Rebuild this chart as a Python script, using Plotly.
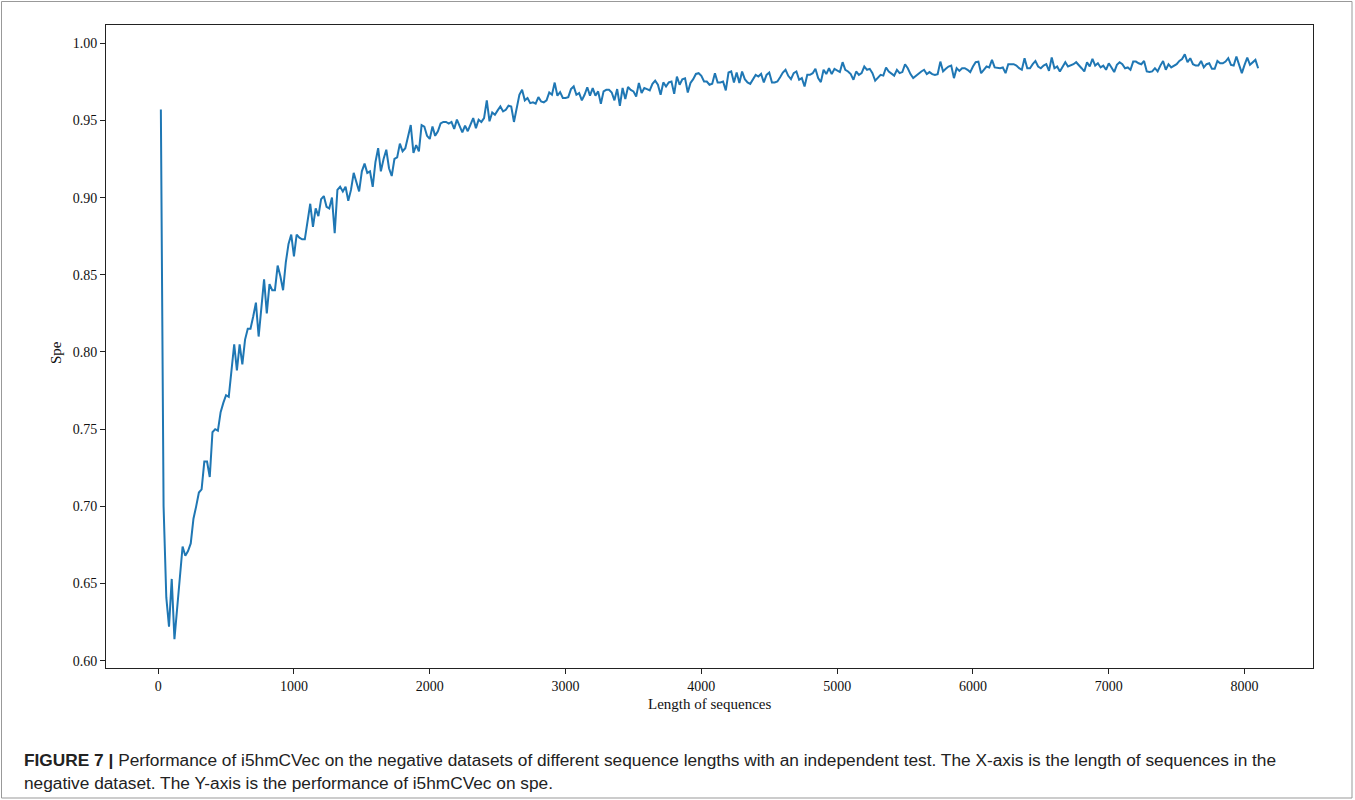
import plotly.graph_objects as go

# Sequence lengths (x) : 20, 40, ..., 8100
x_start = 20
x_step = 20

spe_part1 = [
    0.957, 0.700, 0.641, 0.622, 0.653, 0.614, 0.634, 0.655, 0.674, 0.668,
    0.671, 0.676, 0.692, 0.700, 0.709, 0.711, 0.729, 0.729, 0.719, 0.748,
    0.750, 0.749, 0.761, 0.767, 0.772, 0.771, 0.789, 0.805, 0.788, 0.805,
    0.792, 0.808, 0.815, 0.815, 0.823, 0.832, 0.810, 0.829, 0.847, 0.825,
    0.844, 0.840, 0.840, 0.856, 0.849, 0.840, 0.858, 0.870, 0.876, 0.862,
    0.876, 0.874, 0.873, 0.873, 0.884, 0.896, 0.881, 0.893, 0.888, 0.899,
    0.901, 0.894, 0.893, 0.900, 0.877, 0.905, 0.907, 0.904, 0.907, 0.898,
    0.905, 0.916, 0.910, 0.904, 0.917, 0.922, 0.916, 0.917, 0.907, 0.923,
    0.932, 0.917, 0.925, 0.931, 0.919, 0.914, 0.925, 0.926, 0.935, 0.930,
    0.932, 0.939, 0.947, 0.929, 0.934, 0.930, 0.947, 0.946, 0.940, 0.938,
    0.946, 0.940, 0.943, 0.948,
]

spe_part2 = [
    0.949, 0.949, 0.948, 0.949, 0.9445, 0.9505, 0.9466, 0.9423, 0.9466, 0.943,
    0.9473, 0.9515, 0.945, 0.9505, 0.949, 0.9515, 0.963, 0.9494, 0.9552, 0.9537,
    0.9565, 0.959, 0.9558, 0.9569, 0.9595, 0.959, 0.949, 0.959, 0.9666, 0.9698,
    0.963, 0.9645, 0.9612, 0.9617, 0.9608, 0.9651, 0.9623, 0.9617, 0.963, 0.9681,
    0.9666, 0.9745, 0.966, 0.9683, 0.9645, 0.9645, 0.9651, 0.9703, 0.972,
    0.9666, 0.9677, 0.963, 0.9666, 0.9715, 0.966, 0.9709, 0.966, 0.9688, 0.9608,
    0.9688, 0.9698, 0.9698, 0.9681, 0.963, 0.9703, 0.9595,
]

spe_part3 = [
    0.971, 0.9638, 0.9716, 0.9698, 0.9688, 0.9655, 0.9742, 0.9677, 0.971, 0.9703,
    0.9694, 0.9737, 0.9758, 0.9731, 0.9666, 0.9746, 0.972, 0.9746, 0.9752, 0.9672,
    0.9784, 0.9731, 0.9767, 0.9773, 0.9681, 0.9742, 0.9767, 0.9801, 0.9806,
    0.9789, 0.9752, 0.9752, 0.9731, 0.9737, 0.9806, 0.9746, 0.9746, 0.9752, 0.9694,
    0.981, 0.9817, 0.9746, 0.981, 0.9742, 0.9817, 0.9767, 0.9746, 0.9737, 0.9767,
    0.9795, 0.9784, 0.9801, 0.9746, 0.9795, 0.981, 0.9746, 0.9746, 0.9752, 0.978,
    0.981, 0.9828, 0.9789, 0.9767, 0.9806, 0.9817, 0.9763,
]

spe_part4 = [
    0.9774, 0.972, 0.9795, 0.9795, 0.9806, 0.9834, 0.9774, 0.9748, 0.9828,
    0.98, 0.9838, 0.98, 0.9834, 0.9821, 0.9813, 0.9877, 0.9828, 0.9817, 0.98,
    0.9763, 0.9817, 0.9795, 0.9806, 0.9849, 0.9828, 0.9834, 0.9806, 0.9757, 0.9774,
    0.9795, 0.979, 0.9843, 0.9817, 0.9806, 0.979, 0.9828, 0.9806, 0.9813, 0.9864,
    0.9838, 0.98, 0.9774, 0.979, 0.98, 0.9817, 0.9828, 0.98, 0.9813, 0.98,
    0.9795, 0.98, 0.9881, 0.9817, 0.9834, 0.9849, 0.9855, 0.9774, 0.9838,
    0.9821, 0.9838, 0.9838, 0.9828, 0.9813, 0.9849, 0.9877, 0.9881, 0.9806, 0.9828,
    0.9849, 0.9843, 0.9892, 0.9843, 0.9838, 0.9838, 0.9843, 0.9806, 0.9864, 0.9864,
    0.9864, 0.9855, 0.9838,
]

spe_part5 = [
    0.9828, 0.9903, 0.9838, 0.9838, 0.9864, 0.9885, 0.9849, 0.9838, 0.9855, 0.9864,
    0.9821, 0.9907, 0.9838, 0.9849, 0.9817, 0.9849, 0.9877, 0.9849, 0.9855, 0.9864,
    0.9877, 0.986, 0.9838, 0.9817, 0.9877, 0.9849, 0.9898, 0.9855, 0.987,
    0.9843, 0.9855, 0.9828, 0.987, 0.9843, 0.9813, 0.986, 0.9877, 0.9864,
    0.9838, 0.9843, 0.9828, 0.9881, 0.9881, 0.987, 0.9864, 0.9885, 0.9817, 0.9813,
    0.9817, 0.9838, 0.9817, 0.9855, 0.9885, 0.9828, 0.9864, 0.9843, 0.9855, 0.9864,
    0.9885, 0.9898, 0.9928, 0.9877, 0.9903, 0.9864, 0.9855, 0.9855, 0.9885, 0.9843,
    0.9864, 0.987, 0.9834, 0.9834, 0.9885, 0.987, 0.987, 0.9881, 0.9903, 0.986,
    0.9855, 0.9914, 0.986, 0.9806, 0.986, 0.9907, 0.986, 0.9877, 0.9892, 0.9838,
]

spe = spe_part1 + spe_part2 + spe_part3 + spe_part4 + spe_part5
lengths = [x_start + i * x_step for i in range(len(spe))]

x_ticks = [0, 1000, 2000, 3000, 4000, 5000, 6000, 7000, 8000]
y_ticks = [0.60, 0.65, 0.70, 0.75, 0.80, 0.85, 0.90, 0.95, 1.00]

W, H = 1355, 800
L, R, T, B = 106, 1313, 25, 668
pw, ph = R - L, B - T

def px(xp):
    return (xp - L) / pw

def py(yp):
    return (B - yp) / ph

fig = go.Figure()
fig.add_trace(go.Scatter(
    x=lengths, y=spe, mode="lines",
    line=dict(color="#1f77b4", width=2),
    showlegend=False, hoverinfo="x+y",
))

serif = "Liberation Serif, Times New Roman, serif"
axis_common = dict(
    showline=True, linecolor="#222", linewidth=1, mirror=True,
    ticks="outside", ticklen=5, tickwidth=1, tickcolor="#222",
    showgrid=False, zeroline=False,
    tickfont=dict(family=serif, size=14, color="#111"),
)

fig.update_layout(
    width=W, height=H,
    margin=dict(l=L, r=W - R, t=T, b=H - B),
    paper_bgcolor="white", plot_bgcolor="white",
    xaxis=dict(range=[-384, 8504], tickvals=x_ticks, **axis_common),
    yaxis=dict(range=[0.5953, 1.0118], tickvals=y_ticks, tickformat=".2f", **axis_common),
)

fig.add_annotation(
    text="Length of sequences", xref="paper", yref="paper",
    x=0.5, y=py(704), xanchor="center", yanchor="middle", showarrow=False,
    font=dict(family=serif, size=15, color="#111"),
)
fig.add_annotation(
    text="Spe", xref="paper", yref="paper", textangle=-90,
    x=px(56), y=py(353), xanchor="center", yanchor="middle", showarrow=False,
    font=dict(family=serif, size=15, color="#111"),
)

cap_font = dict(family="Liberation Sans, Arial, sans-serif", size=17.3, color="#222")
fig.add_annotation(
    text="<b>FIGURE 7 |</b> Performance of i5hmCVec on the negative datasets of different sequence lengths with an independent test. The X-axis is the length of sequences in the",
    xref="paper", yref="paper", x=px(22), y=py(760), xanchor="left", yanchor="middle",
    showarrow=False, font=cap_font,
)
fig.add_annotation(
    text="negative dataset. The Y-axis is the performance of i5hmCVec on spe.",
    xref="paper", yref="paper", x=px(22), y=py(783), xanchor="left", yanchor="middle",
    showarrow=False, font=cap_font,
)

# outer figure frame
fig.add_shape(
    type="rect", xref="paper", yref="paper",
    x0=px(1.5), x1=px(1352), y0=py(798), y1=py(1.5),
    line=dict(color="#999", width=1), fillcolor="rgba(0,0,0,0)", layer="below",
)

fig.write_html("out.html")
